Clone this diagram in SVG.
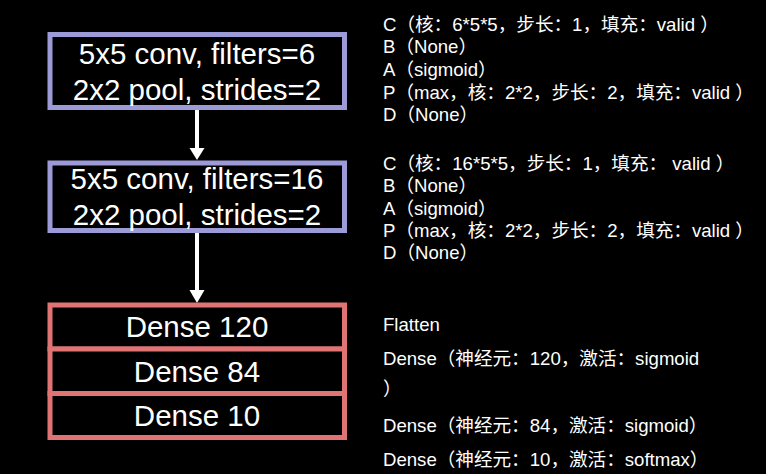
<svg xmlns="http://www.w3.org/2000/svg" width="766" height="474" viewBox="0 0 766 474">
<style>
.conv{fill:#000;stroke:#9D9AD8;stroke-width:5}
.dense{fill:#000;stroke:#E07474;stroke-width:5}
.big{font-family:"Liberation Sans",Arial,sans-serif;font-size:29.5px;fill:#fff;text-anchor:middle}
.note{font-family:"Liberation Sans",Arial,"Noto Sans CJK SC",sans-serif;font-size:18.6px;fill:#fff}
.link{stroke:#fff;stroke-width:4;fill:none}
.head{fill:#fff}
</style>
<rect width="766" height="474" fill="#000"/>
<g id="connectors">
<line class="link" x1="197" y1="110" x2="197" y2="150"/>
<path class="head" d="M189.5,148 L204.5,148 L197,160 Z"/>
<line class="link" x1="197" y1="233" x2="197" y2="292"/>
<path class="head" d="M189.5,290 L204.5,290 L197,303 Z"/>
</g>
<g id="conv1">
<rect class="conv" x="50" y="34.5" width="294.5" height="73"/>
<text class="big" x="197" y="64">5x5 conv, filters=6</text>
<text class="big" x="197" y="100">2x2 pool, strides=2</text>
</g>
<g id="conv2">
<rect class="conv" x="50" y="163" width="294.5" height="67.5"/>
<text class="big" x="197" y="189">5x5 conv, filters=16</text>
<text class="big" x="197" y="225">2x2 pool, strides=2</text>
</g>
<g id="dense120">
<rect class="dense" x="50" y="305" width="294.5" height="44"/>
<text class="big" x="197" y="337">Dense 120</text>
</g>
<g id="dense84">
<rect class="dense" x="50" y="349" width="294.5" height="44.5"/>
<text class="big" x="197" y="382">Dense 84</text>
</g>
<g id="dense10">
<rect class="dense" x="50" y="393.5" width="294.5" height="44"/>
<text class="big" x="197" y="426">Dense 10</text>
</g>
<g id="notes1">
<text class="note" x="383" y="31">C（核：6*5*5，步长：1，填充：valid ）</text>
<text class="note" x="383" y="53">B（None）</text>
<text class="note" x="383" y="76">A（sigmoid）</text>
<text class="note" x="383" y="99">P（max，核：2*2，步长：2，填充：valid ）</text>
<text class="note" x="383" y="121">D（None）</text>
</g>
<g id="notes2">
<text class="note" x="383" y="170">C（核：16*5*5，步长：1，填充： valid ）</text>
<text class="note" x="383" y="192">B（None）</text>
<text class="note" x="383" y="215">A（sigmoid）</text>
<text class="note" x="383" y="237">P（max，核：2*2，步长：2，填充：valid ）</text>
<text class="note" x="383" y="259">D（None）</text>
</g>
<g id="notes3">
<text class="note" x="383" y="331">Flatten</text>
<text class="note" x="383" y="365">Dense（神经元：120，激活：sigmoid</text>
<text class="note" x="383" y="395">）</text>
<text class="note" x="383" y="432">Dense（神经元：84，激活：sigmoid）</text>
<text class="note" x="383" y="466">Dense（神经元：10，激活：softmax）</text>
</g>
</svg>
